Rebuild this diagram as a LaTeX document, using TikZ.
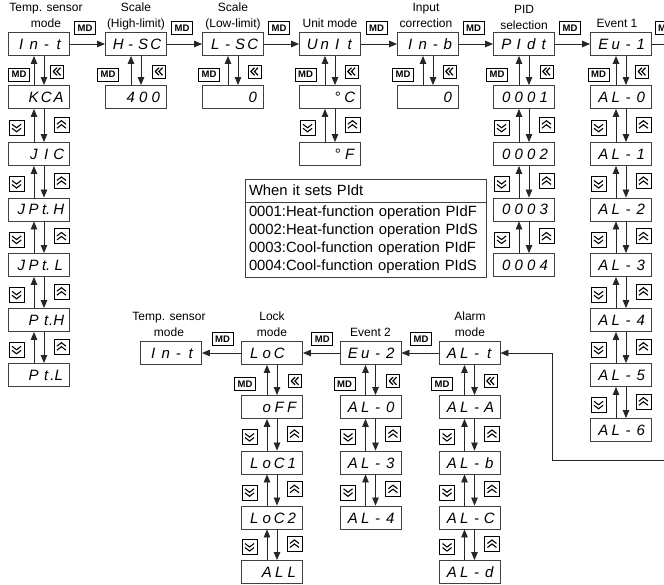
\documentclass[tikz,border=0pt]{standalone}
\usepackage{fontspec}
\setmainfont{Liberation Sans}
\newfontfamily\segfont{Liberation Sans}
\usetikzlibrary{arrows.meta,calc}

\newcommand\dsp[4]{\kern2pt\makebox[12.5pt]{#1}\makebox[12.5pt]{#2}\makebox[12.5pt]{#3}\makebox[12.5pt]{#4}}

\tikzset{
  disp/.style={draw=black!75, line width=0.9pt, minimum width=61pt, minimum height=23pt,
    inner sep=0pt, text height=11pt, text depth=0pt, font=\segfont\itshape\fontsize{15}{15}\selectfont},
  mdbox/.style={draw=black, line width=0.8pt, minimum width=21pt, minimum height=13pt,
    inner sep=0pt, text height=6.8pt, text depth=0pt, font=\bfseries\fontsize{9.5}{9.5}\selectfont},
  bkbox/.style={draw=black, line width=0.8pt, minimum width=13pt, minimum height=13pt, inner sep=0pt,
    path picture={
      \draw[line width=1.2pt] ([shift={(0pt,3.8pt)}]path picture bounding box.center) -- ++(-3.6pt,-3.8pt) -- ++(3.6pt,-3.8pt);
      \draw[line width=1.2pt] ([shift={(3.6pt,3.8pt)}]path picture bounding box.center) -- ++(-3.6pt,-3.8pt) -- ++(3.6pt,-3.8pt);}},
  dnbox/.style={draw=black, line width=0.8pt, minimum width=15pt, minimum height=15pt, inner sep=0pt,
    path picture={
      \draw[line width=1.1pt] ([shift={(-4.5pt,3.7pt)}]path picture bounding box.center) -- ++(4.5pt,-3.5pt) -- ++(4.5pt,3.5pt);
      \draw[line width=1.1pt] ([shift={(-4.5pt,-0.3pt)}]path picture bounding box.center) -- ++(4.5pt,-3.5pt) -- ++(4.5pt,3.5pt);}},
  upbox/.style={draw=black, line width=0.8pt, minimum width=15pt, minimum height=15pt, inner sep=0pt,
    path picture={
      \draw[line width=1.1pt] ([shift={(-4.5pt,-3.7pt)}]path picture bounding box.center) -- ++(4.5pt,3.5pt) -- ++(4.5pt,-3.5pt);
      \draw[line width=1.1pt] ([shift={(-4.5pt,0.3pt)}]path picture bounding box.center) -- ++(4.5pt,3.5pt) -- ++(4.5pt,-3.5pt);}},
  lbl/.style={align=center, inner sep=0pt, font=\fontsize{12}{16}\selectfont},
  arr/.style={draw=black!85, line width=0.8pt, -{Triangle[length=8pt,width=6.5pt]}},
  conn/.style={draw=black!85, line width=0.8pt},
  tab/.style={draw=black!75, line width=0.9pt, inner xsep=4pt, inner ysep=0pt, text width=233pt, align=left,
    font=\fontsize{14.8}{17.8}\selectfont}
}

\newcommand\vlink[2]{%
  \draw[arr] ([xshift=-5pt]#2.north) -- ([xshift=-5pt]#1.south);
  \draw[arr] ([xshift=5pt]#1.south) -- ([xshift=5pt]#2.north);}

\newcommand\mdgap[5]{%
  \coordinate (#3L) at ($(#1.south west)!0.5!(#2.north west)$);
  \coordinate (#3R) at ($(#1.south east)!0.5!(#2.north east)$);
  \node[mdbox] (#3md) at ([shift={(#4,4)}]#3L) {MD};
  \node[bkbox] (#3bk) at ([shift={(#5,1)}]#3R) {};}

\newcommand\chgap[3]{%
  \coordinate (#3L) at ($(#1.south west)!0.5!(#2.north west)$);
  \coordinate (#3R) at ($(#1.south east)!0.5!(#2.north east)$);
  \node[dnbox] (#3dn) at ([shift={(8.5,2.5)}]#3L) {};
  \node[upbox] (#3up) at ([shift={(-8.5,-1)}]#3R) {};}

\begin{document}
\begin{tikzpicture}[x=1pt,y=-1pt]
\fill[white] (0,0) rectangle (664,585);
\useasboundingbox (0,0) rectangle (664,585);

% ---------- top row labels
\node[lbl] (lt1) at (46,15.5) {Temp. sensor\\mode};
\node[lbl] (lt2) at (136,16.5) {Scale\\(High-limit)};
\node[lbl] (lt3) at (233,16.5) {Scale\\(Low-limit)};
\node[lbl] (lt4) at (330,23.7) {Unit mode};
\node[lbl] (lt5) at (426,15.5) {Input\\correction};
\node[lbl] (lt6) at (524,17) {PID\\selection};
\node[lbl] (lt7) at (617,23.7) {Event 1};

% ---------- column 1: temp sensor
\node[disp] (t0) at (39,44) {\dsp{I}{n}{-}{t}};
\node[disp] (t1) at (39,97) {\dsp{}{K}{C}{A}};
\node[disp] (t2) at (39,154) {\dsp{}{J}{I}{C}};
\node[disp] (t3) at (39,209.5) {\dsp{J}{P}{t.}{H}};
\node[disp] (t4) at (39,265) {\dsp{J}{P}{t.}{L}};
\node[disp] (t5) at (39,320) {\dsp{}{P}{t}{\llap{.}H}};
\node[disp] (t6) at (39,375) {\dsp{}{P}{t}{\llap{.}L}};

% ---------- other top columns
\node[disp] (h0) at (136,44) {\dsp{H}{-}{S}{C}};
\node[disp] (h1) at (136,97) {\dsp{}{4}{0}{0}};
\node[disp] (l0) at (233,44) {\dsp{L}{-}{S}{C}};
\node[disp] (l1) at (233,97) {\dsp{}{}{}{0}};
\node[disp] (u0) at (330,44) {\dsp{U}{n}{I}{t}};
\node[disp] (u1) at (330,97) {\dsp{}{}{°}{C}};
\node[disp] (u2) at (330,154) {\dsp{}{}{°}{F}};
\node[disp] (i0) at (428,44) {\dsp{I}{n}{-}{b}};
\node[disp] (i1) at (428,97) {\dsp{}{}{}{0}};
\node[disp] (p0) at (524,44) {\dsp{P}{I}{d}{t}};
\node[disp] (p1) at (524,97) {\dsp{0}{0}{0}{1}};
\node[disp] (p2) at (524,154) {\dsp{0}{0}{0}{2}};
\node[disp] (p3) at (524,209.5) {\dsp{0}{0}{0}{3}};
\node[disp] (p4) at (524,265) {\dsp{0}{0}{0}{4}};
\node[disp] (e0) at (621,44) {\dsp{E}{u}{-}{1}};
\node[disp] (e1) at (621,97) {\dsp{A}{L}{-}{0}};
\node[disp] (e2) at (621,154) {\dsp{A}{L}{-}{1}};
\node[disp] (e3) at (621,209.5) {\dsp{A}{L}{-}{2}};
\node[disp] (e4) at (621,265) {\dsp{A}{L}{-}{3}};
\node[disp] (e5) at (621,320) {\dsp{A}{L}{-}{4}};
\node[disp] (e6) at (621,375) {\dsp{A}{L}{-}{5}};
\node[disp] (e7) at (621,430) {\dsp{A}{L}{-}{6}};

% ---------- top horizontal arrows
\draw[arr] (t0.east) -- (h0.west);
\draw[arr] (h0.east) -- (l0.west);
\draw[arr] (l0.east) -- (u0.west);
\draw[arr] (u0.east) -- (i0.west);
\draw[arr] (i0.east) -- (p0.west);
\draw[arr] (p0.east) -- (e0.west);
\coordinate (offt) at (700,44);
\draw[conn] (e0.east) -- (offt);
\node[mdbox] (mh1) at ($(t0.east)!0.5!(h0.west)+(-2.5,-16)$) {MD};
\node[mdbox] (mh2) at ($(h0.east)!0.5!(l0.west)+(-2.5,-16)$) {MD};
\node[mdbox] (mh3) at ($(l0.east)!0.5!(u0.west)+(-2.5,-16)$) {MD};
\node[mdbox] (mh4) at ($(u0.east)!0.5!(i0.west)+(-2.5,-16)$) {MD};
\node[mdbox] (mh5) at ($(i0.east)!0.5!(p0.west)+(-2.5,-16)$) {MD};
\node[mdbox] (mh6) at ($(p0.east)!0.5!(e0.west)+(-2.5,-16)$) {MD};
\node[mdbox] (mh7) at (665.5,28) {MD};

% ---------- top vertical links
\vlink{t0}{t1}\vlink{t1}{t2}\vlink{t2}{t3}\vlink{t3}{t4}\vlink{t4}{t5}\vlink{t5}{t6}
\vlink{h0}{h1}
\vlink{l0}{l1}
\vlink{u0}{u1}\vlink{u1}{u2}
\vlink{i0}{i1}
\vlink{p0}{p1}\vlink{p1}{p2}\vlink{p2}{p3}\vlink{p3}{p4}
\vlink{e0}{e1}\vlink{e1}{e2}\vlink{e2}{e3}\vlink{e3}{e4}\vlink{e4}{e5}\vlink{e5}{e6}\vlink{e6}{e7}

% ---------- top icons
\mdgap{t0}{t1}{gt1}{11}{-13}
\chgap{t1}{t2}{gt2}\chgap{t2}{t3}{gt3}\chgap{t3}{t4}{gt4}\chgap{t4}{t5}{gt5}\chgap{t5}{t6}{gt6}
\mdgap{h0}{h1}{gh1}{3}{-8}
\mdgap{l0}{l1}{gl1}{7}{-9.5}
\mdgap{u0}{u1}{gu1}{6.5}{-9.5}
\chgap{u1}{u2}{gu2}
\mdgap{i0}{i1}{gi1}{6}{-9.5}
\mdgap{p0}{p1}{gp1}{4}{-8.5}
\chgap{p1}{p2}{gp2}\chgap{p2}{p3}{gp3}\chgap{p3}{p4}{gp4}
\mdgap{e0}{e1}{ge1}{8.5}{-10}
\chgap{e1}{e2}{ge2}\chgap{e2}{e3}{ge3}\chgap{e3}{e4}{ge4}\chgap{e4}{e5}{ge5}\chgap{e5}{e6}{ge6}\chgap{e6}{e7}{ge7}

% ---------- table
\node[tab, minimum height=23pt] (tabh) at (365.5,190.5) {When it sets PIdt};
\node[tab, minimum height=75pt] (tabb) at (365.5,239.5) {0001:Heat-function operation PIdF\\0002:Heat-function operation PIdS\\0003:Cool-function operation PIdF\\0004:Cool-function operation PIdS};

% ---------- bottom labels
\node[lbl] (lb1) at (169,324) {Temp. sensor\\mode};
\node[lbl] (lb2) at (272,324) {Lock\\mode};
\node[lbl] (lb3) at (370.5,332.5) {Event 2};
\node[lbl] (lb4) at (470,324) {Alarm\\mode};

% ---------- bottom columns
\node[disp] (bt) at (171,353) {\dsp{I}{n}{-}{t}};
\node[disp] (c0) at (272,353) {\dsp{L}{o}{C}{}};
\node[disp] (c1) at (272,407) {\dsp{}{o}{F}{F}};
\node[disp] (c2) at (272,462.5) {\dsp{L}{o}{C}{1}};
\node[disp] (c3) at (272,517.5) {\dsp{L}{o}{C}{2}};
\node[disp] (c4) at (272,572) {\dsp{}{A}{L}{L}};
\node[disp] (v0) at (370.5,353) {\dsp{E}{u}{-}{2}};
\node[disp] (v1) at (370.5,407) {\dsp{A}{L}{-}{0}};
\node[disp] (v2) at (370.5,462.5) {\dsp{A}{L}{-}{3}};
\node[disp] (v3) at (370.5,517.5) {\dsp{A}{L}{-}{4}};
\node[disp] (a0) at (469.5,353) {\dsp{A}{L}{-}{t}};
\node[disp] (a1) at (469.5,407) {\dsp{A}{L}{-}{A}};
\node[disp] (a2) at (469.5,462.5) {\dsp{A}{L}{-}{b}};
\node[disp] (a3) at (469.5,517.5) {\dsp{A}{L}{-}{C}};
\node[disp] (a4) at (469.5,572) {\dsp{A}{L}{-}{d}};

% ---------- bottom horizontal arrows
\draw[arr] (c0.west) -- (bt.east);
\draw[arr] (v0.west) -- (c0.east);
\draw[arr] (a0.west) -- (v0.east);
\node[mdbox] (mb1) at ($(c0.west)!0.5!(bt.east)+(1,-14)$) {MD};
\node[mdbox] (mb2) at ($(v0.west)!0.5!(c0.east)+(1,-14)$) {MD};
\node[mdbox] (mb3) at ($(a0.west)!0.5!(v0.east)+(1,-14)$) {MD};
\coordinate (offb) at (700,460);
\coordinate (bend) at (552,460);
\draw[arr] (offb) -- (bend) |- (a0.east);

% ---------- bottom vertical links
\vlink{c0}{c1}\vlink{c1}{c2}\vlink{c2}{c3}\vlink{c3}{c4}
\vlink{v0}{v1}\vlink{v1}{v2}\vlink{v2}{v3}
\vlink{a0}{a1}\vlink{a1}{a2}\vlink{a2}{a3}\vlink{a3}{a4}

% ---------- bottom icons
\mdgap{c0}{c1}{gc1}{4}{-8}
\chgap{c1}{c2}{gc2}\chgap{c2}{c3}{gc3}\chgap{c3}{c4}{gc4}
\mdgap{v0}{v1}{gv1}{5}{-8.5}
\chgap{v1}{v2}{gv2}\chgap{v2}{v3}{gv3}
\mdgap{a0}{a1}{ga1}{3.5}{-10}
\chgap{a1}{a2}{ga2}\chgap{a2}{a3}{ga3}\chgap{a3}{a4}{ga4}
\end{tikzpicture}
\end{document}
